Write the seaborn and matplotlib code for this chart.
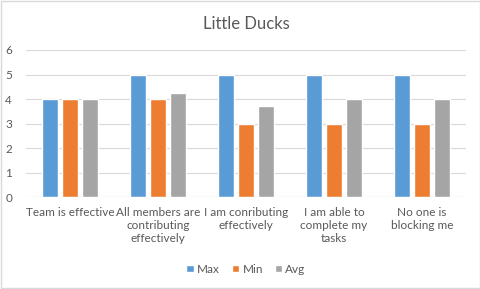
import pandas as pd
import matplotlib.pyplot as plt
import seaborn as sns

questions = ["Team is effective", "All members are\ncontributing\neffectively",
             "I am conributing\neffectively", "I am able to\ncomplete my\ntasks",
             "No one is\nblocking me"]
max_vals = [4, 5, 5, 5, 5]
min_vals = [4, 4, 3, 3, 3]
avg_vals = [4, 4.23, 3.73, 4, 4]

df = pd.DataFrame({
    "Question": questions * 3,
    "Stat": ["Max"] * 5 + ["Min"] * 5 + ["Avg"] * 5,
    "Score": max_vals + min_vals + avg_vals,
})

sns.set_style("white")
plt.rcParams["font.family"] = ["Lato", "DejaVu Sans"]

fig = plt.figure(figsize=(4.81, 2.89), dpi=100)
ax = fig.add_axes([0.054, 0.318, 0.915, 0.509])

sns.barplot(data=df, x="Question", y="Score", hue="Stat",
            palette=["#5B9BD5", "#ED7D31", "#A5A5A5"], saturation=1,
            width=0.68, gap=0.22, ax=ax, legend=True)

ax.set_ylim(0, 6)
ax.set_yticks(range(7))
ax.grid(axis="y", color="#D9D9D9", linewidth=0.8)
ax.set_axisbelow(True)
sns.despine(left=True, bottom=True)
ax.axhline(0, color="#D9D9D9", linewidth=0.8)
ax.tick_params(axis="both", length=0, labelsize=8.5, labelcolor="#595959")
ax.tick_params(axis="y", pad=10)
ax.tick_params(axis="x", pad=7)
for t in ax.get_xticklabels():
    t.set_linespacing(1.25)
ax.set_xlabel("")
ax.set_ylabel("")
ax.set_title("Little Ducks", fontsize=12, color="#595959", pad=15)

ax.legend(loc="upper center", bbox_to_anchor=(0.5, -0.38), ncol=3, frameon=False,
          fontsize=8.5, labelcolor="#595959", handlelength=0.6, handleheight=0.6,
          handletextpad=0.3, columnspacing=1.0)

fig.patches.append(plt.Rectangle((0.002, 0.003), 0.995, 0.993, transform=fig.transFigure,
                                 fill=False, edgecolor="#D9D9D9", linewidth=1))
fig.savefig("out.png", dpi=100)
